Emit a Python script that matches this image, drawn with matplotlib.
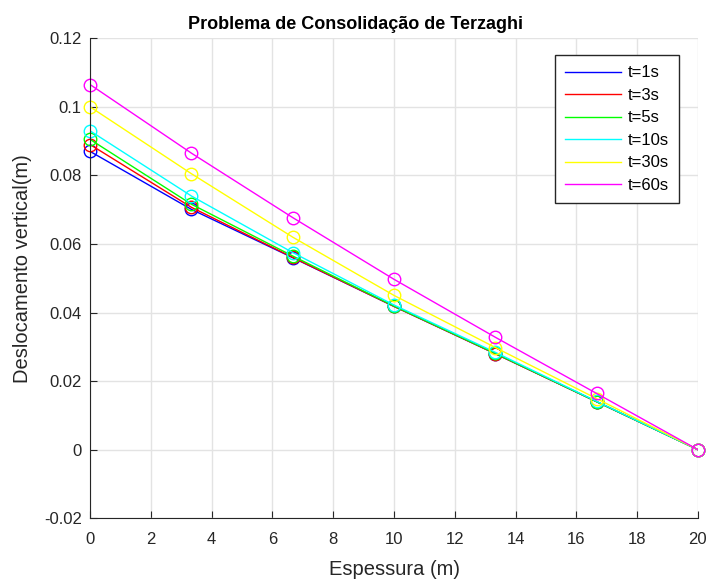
import matplotlib
matplotlib.use("Agg")
import matplotlib.pyplot as plt

plt.rcParams['font.family'] = ['Liberation Sans', 'DejaVu Sans']

# Espessura (m)
z = [0, 3.333, 6.667, 10, 13.333, 16.667, 20]

labels = ["t=1s", "t=3s", "t=5s", "t=10s", "t=30s", "t=60s"]
colors = ["#0000ff", "#ff0000", "#00ff00", "#00ffff", "#ffff00", "#ff00ff"]

# Deslocamento vertical (m)
w_1 = [0.0870, 0.0701, 0.0560, 0.0418, 0.0280, 0.0140, 0.0]
w_3 = [0.0890, 0.0707, 0.0561, 0.0418, 0.0280, 0.0140, 0.0]
w_5 = [0.0905, 0.0716, 0.0565, 0.0419, 0.0281, 0.0140, 0.0]
w_10 = [0.0930, 0.0740, 0.0575, 0.0422, 0.0284, 0.0141, 0.0]
w_30 = [0.1000, 0.0805, 0.0620, 0.0450, 0.0298, 0.0149, 0.0]
w_60 = [0.1065, 0.0865, 0.0677, 0.0497, 0.0328, 0.0164, 0.0]
series = [w_1, w_3, w_5, w_10, w_30, w_60]

fig = plt.figure(figsize=(7.1, 5.81), dpi=100)
ax = fig.add_axes([0.127, 0.108, 0.856, 0.826])

for w, c, lab in zip(series, colors, labels):
    ax.plot(z, w, color=c, linewidth=1.0, label=lab)
    ax.plot(z, w, 'o', color=c, markerfacecolor='none', markersize=9,
            markeredgewidth=1.0, clip_on=False)

ax.set_xlim(0, 20)
ax.set_ylim(-0.02, 0.12)
ax.set_xticks(range(0, 21, 2))
yt = [-0.02, 0, 0.02, 0.04, 0.06, 0.08, 0.1, 0.12]
ax.set_yticks(yt)
ax.set_yticklabels(["%g" % v for v in yt])
ax.grid(True, color='#e3e3e3', linewidth=1.0)
ax.set_axisbelow(True)
for s in ['top', 'right']:
    ax.spines[s].set_visible(False)
for s in ['left', 'bottom']:
    ax.spines[s].set_color('#262626')
ax.tick_params(direction='in', length=5, labelsize=12, colors='#262626')
ax.tick_params(axis='x', pad=10)
ax.tick_params(axis='y', pad=6)

# title is centred on the figure, not on the axes
fig.text(0.5, 1 - 29 / 581, "Problema de Consolidação de Terzaghi",
         fontsize=13, fontweight='bold', ha='center', va='baseline',
         color='black')
ax.set_xlabel("Espessura (m)", fontsize=14.5, color='#262626', labelpad=9)
ax.set_ylabel("Deslocamento vertical(m)", fontsize=14.5, color='#262626')
ax.yaxis.set_label_coords(-0.095, 0.52)

leg = ax.legend(loc='upper right', bbox_to_anchor=(0.969, 0.9645),
                borderaxespad=0, fontsize=12, fancybox=False, framealpha=1,
                edgecolor='#262626', handlelength=3.4, handletextpad=0.4,
                labelspacing=0.45, borderpad=0.6)
leg.get_frame().set_linewidth(1.0)

fig.savefig("out.png", dpi=100)
